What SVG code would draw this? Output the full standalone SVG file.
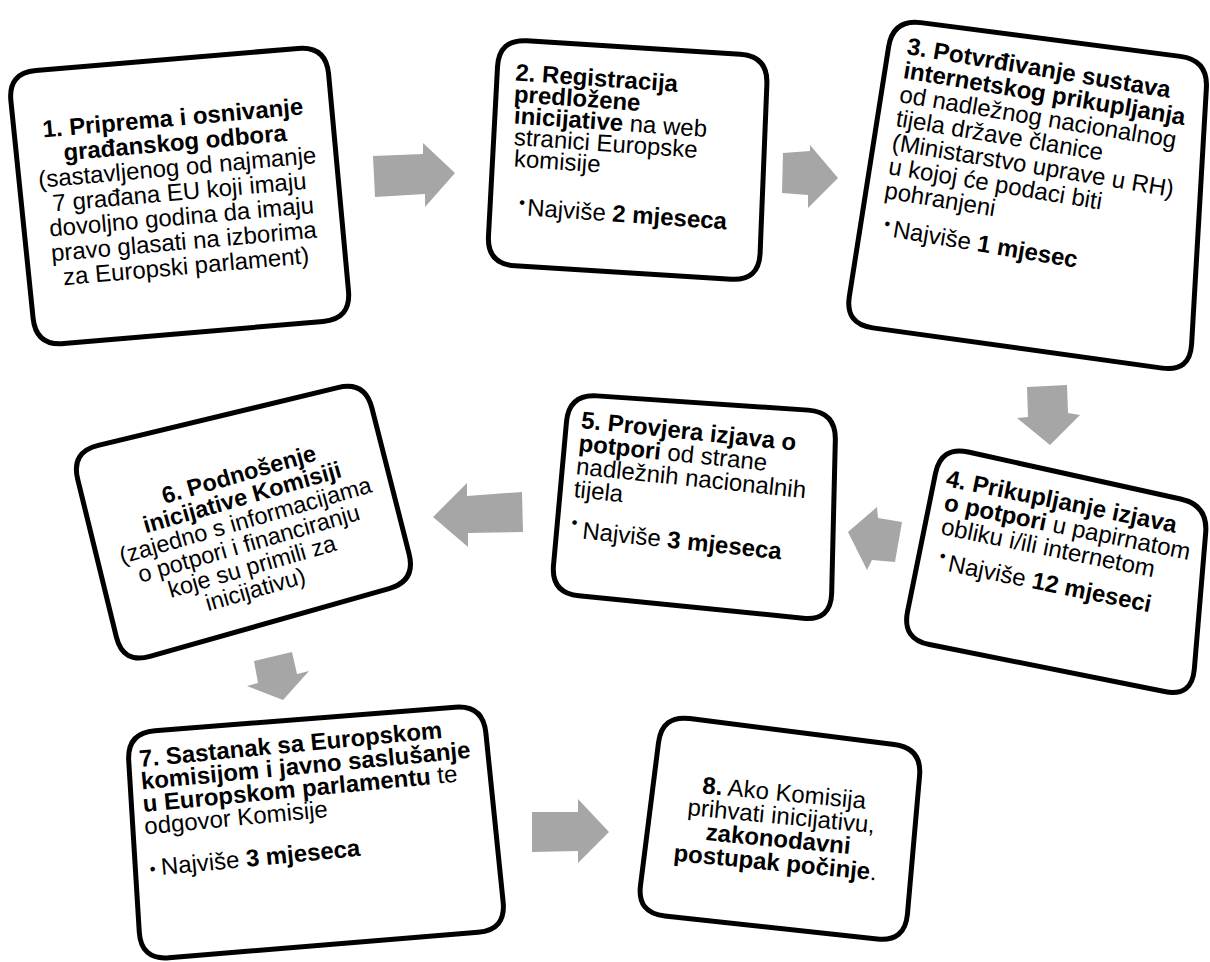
<svg xmlns="http://www.w3.org/2000/svg" width="1210" height="962" viewBox="0 0 1210 962">
<style>
.box{fill:#fff;stroke:#000;stroke-width:5;stroke-linejoin:round}
.arrow{fill:#a6a6a6}
text{font-family:"Liberation Sans",Arial,sans-serif;font-size:24px;fill:#000}
.b{font-weight:bold}
.m{text-anchor:middle}
.bul{font-size:17px}
.s6 text{font-size:23.5px}
</style>
<rect width="1210" height="962" fill="#fff"/>
<g id="connectors">
<polygon class="arrow" points="373,156 423,154 423,143 455,173 425,207 425,194 375,197"/>
<polygon class="arrow" points="783,153 810,151 810,145 838,178 808,208 808,195 782,193"/>
<polygon class="arrow" points="1027,387 1067,385 1068,413 1080,415 1050,445 1017,418 1028,417"/>
<polygon class="arrow" points="902,522 878,518 877,507 848,532 867,570 872,560 895,562"/>
<polygon class="arrow" points="522,492 467,496 467,483 433,517 468,547 468,533 523,532"/>
<polygon class="arrow" points="254,661 292,652 297,674 309,671 283,700 247,686 258,683"/>
<polygon class="arrow" points="532,812 578,812 578,799 609,832 578,863 578,851 532,852"/>
</g>
<g id="node1">
<path class="box" d="M35.9,70.6 L298.1,48.4 Q326,46 328.6,73.9 L348.5,291.1 Q351,319 323.1,321.4 L63.9,343.6 Q36,346 33.1,318.2 L10.9,100.9 Q8,73 35.9,70.6 Z"/>
<g transform="translate(173.5,126) rotate(-5.1)">
<text class="m b" x="0" y="0">1. Priprema i osnivanje</text>
<text class="m b" x="0" y="24.8">građanskog odbora</text>
<text class="m" x="0" y="49.6">(sastavljenog od najmanje</text>
<text class="m" x="0" y="74.4">7 građana EU koji imaju</text>
<text class="m" x="0" y="99.2">dovoljno godina da imaju</text>
<text class="m" x="0" y="124">pravo glasati na izborima</text>
<text class="m" x="0" y="148.8">za Europski parlament)</text>
</g>
</g>
<g id="node2">
<path class="box" d="M526.95,40.77 L740.05,54.23 Q768,56 766.88,83.98 L760.12,253.02 Q759,281 731.05,279.25 L514.95,265.75 Q487,264 488.49,236.04 L497.51,66.96 Q499,39 526.95,40.77 Z"/>
<text class="b" transform="translate(515,80.5) rotate(4)">2. Registracija</text>
<text class="b" transform="translate(513.5,102) rotate(4)">predložene</text>
<text transform="translate(513.5,123.5) rotate(4)"><tspan class="b">inicijative</tspan> na web</text>
<text transform="translate(513.5,145) rotate(4)">stranici Europske</text>
<text transform="translate(513.5,166.5) rotate(4)">komisije</text>
<text class="bul" transform="translate(518.7,208) rotate(4)">•</text>
<text transform="translate(526.7,215.5) rotate(4)">Najviše <tspan class="b">2 mjeseca</tspan></text>
</g>
<g id="node3">
<path class="box" d="M920.76,22.61 L1180.24,56.39 Q1208,60 1206.39,87.95 L1191.61,344.05 Q1190,372 1162.27,368.14 L872.73,327.86 Q845,324 849.35,296.34 L888.65,46.66 Q893,19 920.76,22.61 Z"/>
<text class="b" transform="translate(906,54) rotate(9.5)">3. Potvrđivanje sustava</text>
<text class="b" transform="translate(902.5,78) rotate(9.5)">internetskog prikupljanja</text>
<text transform="translate(898.5,102) rotate(9.5)">od nadležnog nacionalnog</text>
<text transform="translate(895,126) rotate(9.5)">tijela države članice</text>
<text transform="translate(891,150) rotate(9.5)">(Ministarstvo uprave u RH)</text>
<text transform="translate(887.5,174) rotate(9.5)">u kojoj će podaci biti</text>
<text transform="translate(883.5,198) rotate(9.5)">pohranjeni</text>
<text class="bul" transform="translate(883.5,229) rotate(9.5)">•</text>
<text transform="translate(892,237) rotate(9.5)">Najviše <tspan class="b">1 mjesec</tspan></text>
</g>
<g id="node4">
<path class="box" d="M968.34,452.04 L1180.66,498.96 Q1208,505 1205.68,532.9 L1194.32,669.1 Q1192,697 1164.54,691.51 L929.46,644.49 Q902,639 907.55,611.55 L935.45,473.45 Q941,446 968.34,452.04 Z"/>
<text class="b" transform="translate(945,486) rotate(11.5)">4. Prikupljanje izjava</text>
<text transform="translate(943,510) rotate(11.5)"><tspan class="b">o potpori</tspan> u papirnatom</text>
<text transform="translate(940,534) rotate(11.5)">obliku i/ili internetom</text>
<text class="bul" transform="translate(938.7,561) rotate(11.5)">•</text>
<text transform="translate(947,571) rotate(11.5)">Najviše <tspan class="b">12 mjeseci</tspan></text>
</g>
<g id="node5">
<path class="box" d="M596.94,395.88 L808.06,410.12 Q836,412 835.33,439.99 L831.67,593.01 Q831,621 803.14,618.21 L578.86,595.79 Q551,593 553.52,565.11 L566.48,421.89 Q569,394 596.94,395.88 Z"/>
<text class="b" transform="translate(580.5,428) rotate(6)">5. Provjera izjava o</text>
<text transform="translate(578,451) rotate(6)"><tspan class="b">potpori</tspan> od strane</text>
<text transform="translate(575.6,474) rotate(6)">nadležnih nacionalnih</text>
<text transform="translate(573.2,497) rotate(6)">tijela</text>
<text class="bul" transform="translate(571,527.7) rotate(6)">•</text>
<text transform="translate(581.7,538.5) rotate(6)">Najviše <tspan class="b">3 mjeseca</tspan></text>
</g>
<g id="node6" class="s6">
<path class="box" d="M98.22,445.43 L337.78,387.57 Q365,381 371.92,408.13 L409.08,553.87 Q416,581 389.06,588.63 L149.94,656.37 Q123,664 116.33,636.81 L77.67,479.19 Q71,452 98.22,445.43 Z"/>
<text class="m b" transform="translate(241,482) rotate(-16)">6. Podnošenje</text>
<text class="m b" transform="translate(244.3,505) rotate(-16)">inicijative Komisiji</text>
<text class="m" transform="translate(247.6,528) rotate(-16)">(zajedno s informacijama</text>
<text class="m" transform="translate(250.9,551) rotate(-16)">o potpori i financiranju</text>
<text class="m" transform="translate(254.2,574) rotate(-16)">koje su primili za</text>
<text class="m" transform="translate(257.5,597) rotate(-16)">inicijativu)</text>
</g>
<g id="node7">
<path class="box" d="M154.91,730.8 L455.09,707.2 Q483,705 485.85,732.85 L503.15,902.15 Q506,930 478.09,932.29 L168.91,957.71 Q141,960 139.28,932.05 L128.72,760.95 Q127,733 154.91,730.8 Z"/>
<text class="b" transform="translate(140,767) rotate(-5.5)">7. Sastanak sa Europskom</text>
<text class="b" transform="translate(141.7,789.5) rotate(-5.5)">komisijom i javno saslušanje</text>
<text transform="translate(143.4,812) rotate(-5.5)"><tspan class="b">u Europskom parlamentu</tspan> te</text>
<text transform="translate(145.1,834.5) rotate(-5.5)">odgovor Komisije</text>
<text class="bul" transform="translate(150.3,875) rotate(-5.5)">•</text>
<text transform="translate(161.7,875) rotate(-5.5)">Najviše <tspan class="b">3 mjeseca</tspan></text>
</g>
<g id="node8">
<path class="box" d="M689.78,718.53 L894.22,744.47 Q922,748 919.56,775.89 L907.44,914.11 Q905,942 877.17,938.99 L664.83,916.01 Q637,913 640.51,885.22 L658.49,742.78 Q662,715 689.78,718.53 Z"/>
<text class="m" transform="translate(783.5,801) rotate(5.5)"><tspan class="b">8.</tspan> Ako Komisija</text>
<text class="m" transform="translate(780.5,824) rotate(5.5)">prihvati inicijativu,</text>
<text class="m b" transform="translate(777.5,847) rotate(5.5)">zakonodavni</text>
<text class="m" transform="translate(774.5,870.5) rotate(5.5)"><tspan class="b">postupak počinje</tspan>.</text>
</g>
</svg>
